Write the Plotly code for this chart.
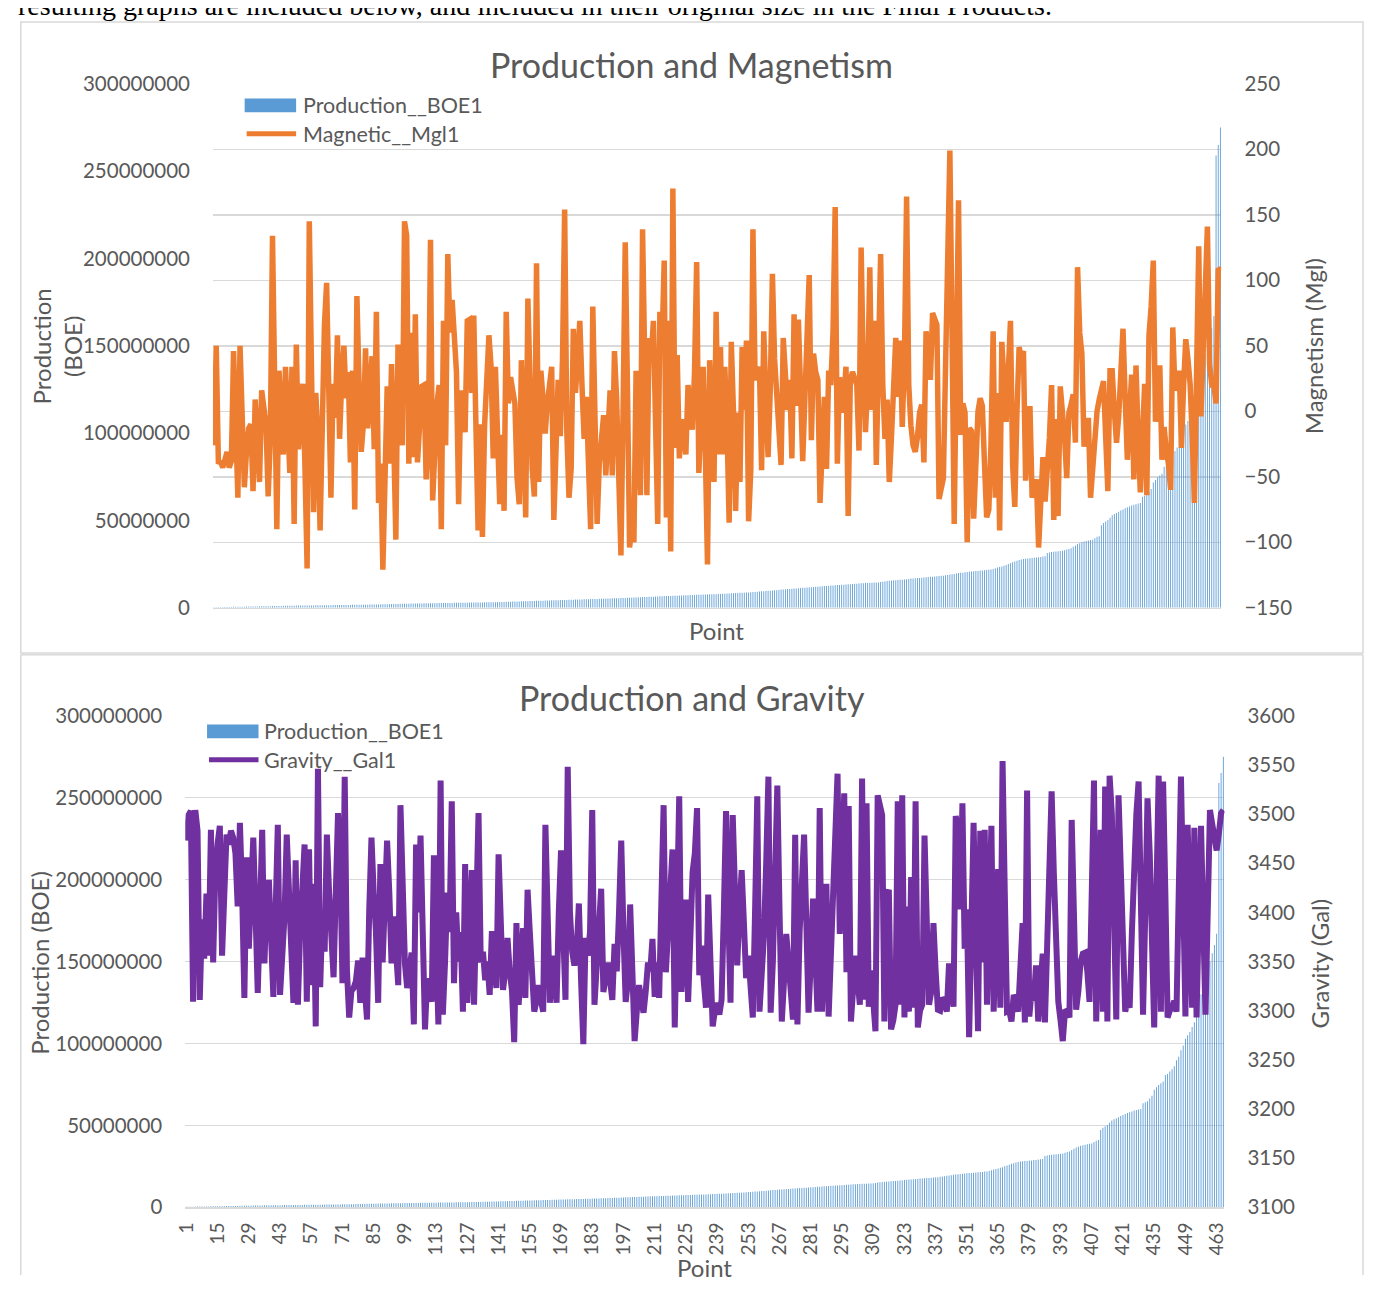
import plotly.graph_objects as go

# The page body keeps the browser's 8px margin, so the figure is sized to fill the
# rest of the 1373x1294 window exactly; all positions below are in window pixels.
OFF = 8
W, H = 1373 - 2 * OFF, 1294 - 2 * OFF
FONT = "Lato"
TXT = "#595959"
GRID = "#D9D9D9"

# ---------------- data ----------------
POINTS = list(range(1, 467))
TICK_POINTS = list(range(1, 467, 14))

# Production in millions of BOE (sorted ascending)
PRODUCTION_M = [
    0.3, 0.32, 0.35, 0.37, 0.4, 0.42, 0.45, 0.47, 0.5, 0.52,
    0.55, 0.57, 0.6, 0.62, 0.65, 0.67, 0.7, 0.72, 0.74, 0.77,
    0.79, 0.82, 0.84, 0.86, 0.89, 0.91, 0.94, 0.96, 0.99, 1.01,
    1.04, 1.06, 1.09, 1.12, 1.15, 1.18, 1.2, 1.22, 1.23, 1.25,
    1.27, 1.28, 1.3, 1.32, 1.33, 1.35, 1.37, 1.38, 1.4, 1.42,
    1.43, 1.45, 1.47, 1.48, 1.5, 1.52, 1.53, 1.55, 1.57, 1.58,
    1.6, 1.62, 1.63, 1.65, 1.67, 1.68, 1.7, 1.72, 1.74, 1.76,
    1.78, 1.8, 1.83, 1.85, 1.88, 1.91, 1.94, 1.97, 2.0, 2.03,
    2.06, 2.09, 2.12, 2.15, 2.18, 2.21, 2.24, 2.27, 2.3, 2.33,
    2.36, 2.39, 2.42, 2.45, 2.47, 2.49, 2.51, 2.53, 2.56, 2.58,
    2.6, 2.62, 2.64, 2.66, 2.68, 2.7, 2.72, 2.74, 2.76, 2.78,
    2.8, 2.82, 2.84, 2.86, 2.88, 2.9, 2.92, 2.94, 2.96, 2.98,
    3.0, 3.02, 3.04, 3.06, 3.08, 3.1, 3.12, 3.14, 3.16, 3.18,
    3.2, 3.24, 3.28, 3.32, 3.36, 3.4, 3.44, 3.48, 3.52, 3.56,
    3.6, 3.64, 3.68, 3.72, 3.76, 3.8, 3.84, 3.88, 3.92, 3.96,
    4.0, 4.04, 4.08, 4.12, 4.16, 4.2, 4.24, 4.28, 4.32, 4.36,
    4.4, 4.44, 4.48, 4.52, 4.56, 4.6, 4.64, 4.68, 4.72, 4.76,
    4.8, 4.84, 4.88, 4.92, 4.96, 5.0, 5.04, 5.08, 5.12, 5.16,
    5.2, 5.25, 5.3, 5.35, 5.4, 5.44, 5.48, 5.52, 5.56, 5.6,
    5.65, 5.7, 5.76, 5.82, 5.88, 5.94, 6.0, 6.06, 6.11, 6.16,
    6.21, 6.26, 6.32, 6.38, 6.44, 6.5, 6.56, 6.62, 6.68, 6.72,
    6.76, 6.8, 6.85, 6.9, 6.95, 7.0, 7.05, 7.1, 7.15, 7.2,
    7.25, 7.3, 7.35, 7.4, 7.45, 7.5, 7.55, 7.6, 7.65, 7.7,
    7.74, 7.77, 7.8, 7.87, 7.94, 8.0, 8.07, 8.13, 8.2, 8.27,
    8.33, 8.4, 8.47, 8.53, 8.6, 8.67, 8.73, 8.8, 8.9, 9.0,
    9.1, 9.2, 9.3, 9.4, 9.5, 9.6, 9.7, 9.8, 9.9, 10.0,
    10.1, 10.2, 10.4, 10.5, 10.6, 10.7, 10.8, 10.9, 11.0, 11.1,
    11.2, 11.3, 11.4, 11.5, 11.6, 11.7, 11.8, 11.9, 12.0, 12.1,
    12.2, 12.3, 12.4, 12.5, 12.6, 12.7, 12.8, 12.9, 13.0, 13.1,
    13.2, 13.25, 13.3, 13.4, 13.5, 13.6, 13.7, 13.8, 13.9, 14.0,
    14.1, 14.2, 14.25, 14.3, 14.35, 14.4, 14.45, 14.5, 14.7, 14.9,
    15.1, 15.3, 15.5, 15.6, 15.7, 15.8, 15.9, 16.0, 16.1, 16.2,
    16.4, 16.5, 16.7, 16.8, 16.9, 17.0, 17.1, 17.2, 17.4, 17.5,
    17.6, 17.7, 17.8, 17.9, 18.0, 18.2, 18.3, 18.4, 18.6, 18.8,
    19.0, 19.2, 19.4, 19.6, 19.9, 20.0, 20.1, 20.3, 20.5, 20.6,
    20.8, 20.9, 21.0, 21.1, 21.3, 21.4, 21.5, 21.6, 21.8, 21.9,
    22.2, 22.6, 23.0, 23.3, 23.7, 24.1, 24.5, 25.0, 25.5, 26.0,
    26.5, 26.9, 27.3, 27.6, 27.9, 28.1, 28.2, 28.3, 28.5, 28.6,
    28.8, 28.9, 29.1, 29.3, 29.5, 31.3, 31.6, 31.9, 32.1, 32.2,
    32.4, 32.5, 32.7, 32.9, 33.3, 33.7, 34.1, 34.9, 35.7, 36.5,
    37.0, 37.6, 37.9, 38.2, 38.5, 38.8, 39.0, 39.8, 40.6, 41.0,
    47.2, 48.6, 49.4, 50.2, 51.6, 53.0, 53.7, 54.3, 55.0, 55.7,
    56.3, 57.0, 57.5, 58.0, 58.5, 59.0, 59.3, 59.7, 60.0, 63.5,
    64.1, 64.7, 66.4, 68.0, 71.7, 73.2, 74.7, 75.7, 76.7, 80.7,
    81.3, 82.8, 84.3, 86.1, 89.8, 91.8, 95.8, 98.8, 102.8, 105,
    107, 110, 113, 118, 124, 130, 136, 141, 145, 150,
    155, 160, 167, 259, 265, 275,
]

MAGNETIC = [
    -26, 50, -40, -38, -43, -36, -31, -43, -38, 46,
    -5, -66, 50, -20, -58, -30, -13, -10, -61, 9,
    -15, -54, 16, 0, -10, -65, -20, 134, 20, -90,
    31, 5, -33, 34, -10, -47, 34, -86, 51, -29,
    -5, 21, -43, -120, 145, 10, -77, 14, -20, -91,
    20, 66, 98, 10, -66, 21, -5, 58, -21, 25,
    50, 10, 30, -39, 31, -75, 88, 20, -31, -10,
    48, -13, 15, 42, -29, 76, -70, -40, -121, -30,
    19, -40, 36, -20, -98, 51, 30, -26, 145, 134,
    -40, 60, -35, 74, -39, -10, 19, 20, -52, -25,
    131, -68, -30, 6, 20, -90, 69, -26, 120, 60,
    85, 64, 30, -71, 16, 5, -16,
    69, 70, 14,
    73, -11, -91, -10, -96, -11, 20, 58, 34, -36,
    34, -37, -71, -18, -76, 76, 6, 26, 15, 6,
    -51, -71, 39, -20, -81, 86, 20, -44, -65, 113,
    -54, 31, 10, -17, 6, 20, 34, -83, -30, 24,
    -19, 40, 154, -16, -66, -44, 63, 14, 40, 69,
    20, -21, 11, -40, -90, 80, 0, -86, -40, -20,
    -3, -49, -18, 16, -49, 46, 10, -40, -110, 0,
    129, 20, -104, -90, -100, 31, -20, -64, 139, 30,
    -64, 56, 40, 69, 0, -86, 76, 50, 115, -81,
    69, -107, 170, -28, 43, -36, -6, -20, -33, 20,
    5, -14, 30, 114, -47, -10, 34, -30, -117, 39,
    -10, -54, 76, -33,
    49, -33, 34, -10, -85, 53,
    0, -76, -1, -54, 49, 1, 54, -84, -45, 139,
    24, 30, 34, -45, 61, 10, -35, 16, 105, 40,
    16, -10, -41, 56, 30, 1, 24, -36, 74, 4,
    70, 21, -38, 10, 50, 104, -22, 44, 30, 24,
    -70, -20, 11, -44, 31, 20, 60, 156, -40, 26,
    -1, 10, 34, -80, 24, 30, 24, 20, -30, 125,
    30, -16, 20, 110, 1, 69, -41, 30, 120, 20,
    -21, 9, -54, -20, 20, 56, 11, 54, -12, 40,
    164, 20, -11, -26, -31, -20, -1, 5, -39, 61,
    45, 24, 75, 70, 66, -67, -60, -51, 34, 100,
    199, 60, -86, 40, 161, -18, 6, -1, -100, -13,
    -15, -82, -40, 0, 10, 4, -40, -81, -75, -25,
    61, -66, 14, -91, 53, 20, -8, 30, 69, -41,
    -73, 0, 49, 40, 46, -53, -30, 4, -66, -60,
    -52, -104, -60, -35, -69, -50, -20, 20, -83, -6,
    -80, 19, 0, -20, -51, -1, 5, 13, -24, 110,
    60, 44, -27, -15, -5, -66, -40, -19, 0, 9,
    15, 23, -20, -61, 31, 31, 0, -24, -4, 30,
    63, 10, -37, -2, 28, -52, 35, -20, -62, -20,
    21, -64, 58, 80, 115, -8, 10, 35, -37, -12,
    -30, -40, -60, 64, 16, 20, 31, -28, 20, 55,
    40, 21, -20, -70, 30, 126, -4, 40, 80, 141,
    36, 20, 20, 6, 109, 108,
]

GRAVITY = [
    3473, 3499, 3503, 3309, 3504, 3483, 3311, 3393, 3353, 3419,
    3356, 3484, 3349, 3443, 3470, 3488, 3356, 3420, 3479, 3469,
    3483, 3476, 3460, 3406, 3491, 3420, 3313, 3456, 3363, 3420,
    3476, 3400, 3318, 3400, 3484, 3348, 3416, 3433, 3380, 3314,
    3400, 3489, 3316, 3360, 3396, 3479, 3420, 3380, 3308, 3453,
    3306, 3380, 3420, 3469, 3309, 3464, 3326, 3429, 3284, 3546,
    3324, 3400, 3360, 3479, 3420, 3380, 3334, 3420, 3501, 3450,
    3328, 3538, 3341, 3293, 3320, 3323, 3330, 3351, 3308, 3354,
    3330, 3291, 3403, 3476, 3420, 3380, 3308, 3449, 3349, 3396,
    3473, 3420, 3348, 3396, 3360, 3326, 3509, 3420, 3348, 3323,
    3340, 3359, 3286, 3469, 3400, 3478, 3380, 3281, 3333, 3320,
    3309, 3458, 3380, 3286, 3534, 3296, 3350, 3420, 3380, 3513,
    3328, 3400, 3350, 3380, 3299, 3449, 3308, 3360, 3443, 3306,
    3400, 3501, 3349, 3360, 3331, 3350, 3316, 3381, 3350, 3323,
    3459, 3400, 3321, 3340, 3374, 3340, 3320, 3268, 3389, 3306,
    3340, 3384, 3313, 3423, 3380, 3330, 3299, 3310, 3326, 3310,
    3299, 3489, 3400, 3308, 3356, 3330, 3308, 3400, 3463, 3380,
    3311, 3548, 3400, 3360, 3346, 3360, 3409, 3330, 3266, 3374,
    3356, 3380, 3504, 3306, 3340, 3380, 3424, 3319, 3340, 3349,
    3330, 3311, 3368, 3340, 3400, 3473, 3380, 3309, 3330, 3408,
    3340, 3269, 3300, 3326, 3310, 3298, 3320, 3349, 3340, 3373,
    3314, 3349, 3313, 3400, 3509, 3339, 3380, 3441, 3464, 3283,
    3400, 3518, 3319, 3360, 3413, 3309, 3380, 3441, 3460, 3506,
    3336, 3366, 3330, 3303, 3418, 3350, 3284, 3300, 3308, 3296,
    3311, 3400, 3503, 3400, 3308, 3499, 3420, 3346, 3400, 3443,
    3390, 3333, 3356, 3330, 3293, 3400, 3518, 3299, 3330, 3376,
    3450, 3538, 3298, 3350, 3440, 3529, 3400, 3289, 3330, 3378,
    3350, 3320, 3291, 3479, 3286, 3380, 3430, 3479, 3390, 3298,
    3350, 3414, 3360, 3299, 3506, 3299, 3360, 3429, 3294, 3360,
    3433, 3480, 3541, 3378, 3450, 3521, 3339, 3508, 3289, 3320,
    3356, 3330, 3306, 3536, 3311, 3511, 3304, 3341, 3310, 3279,
    3519, 3510, 3499, 3289, 3416, 3423, 3281, 3290, 3306, 3513,
    3306, 3519, 3293, 3406, 3299, 3436, 3303, 3513, 3283, 3300,
    3306, 3478, 3390, 3306, 3319, 3389, 3340, 3301, 3300, 3313,
    3310, 3299, 3348, 3320, 3304, 3498, 3480, 3403, 3511, 3363,
    3403, 3273, 3380, 3491, 3380, 3279, 3483, 3349, 3484, 3306,
    3400, 3488, 3299, 3370, 3444, 3303, 3554, 3420, 3299, 3300,
    3289, 3316, 3310, 3299, 3340, 3389, 3288, 3524, 3294, 3320,
    3310, 3346, 3289, 3320, 3358, 3288, 3380, 3450, 3523, 3440,
    3360, 3309, 3290, 3269, 3299, 3300, 3293, 3494, 3400, 3301,
    3320, 3350, 3358, 3359, 3340, 3309, 3420, 3534, 3289, 3380,
    3484, 3299, 3528, 3289, 3539, 3500, 3400, 3291, 3519, 3450,
    3380, 3299, 3310, 3303, 3380, 3450, 3500, 3533, 3420, 3296,
    3400, 3516, 3460, 3380, 3283, 3420, 3539, 3299, 3533, 3420,
    3293, 3300, 3303, 3310, 3299, 3420, 3538, 3420, 3294, 3489,
    3400, 3303, 3486, 3293, 3400, 3488, 3390, 3296, 3400, 3504,
    3490, 3470, 3463, 3480, 3501, 3504,
]

PROD_TICKS = [0, 50000000, 100000000, 150000000, 200000000, 250000000, 300000000]
MAG_TICKS = [-150, -100, -50, 0, 50, 100, 150, 200, 250]
GRAV_TICKS = [3100, 3150, 3200, 3250, 3300, 3350, 3400, 3450, 3500, 3550, 3600]

production = [v * 1e6 for v in PRODUCTION_M]

# ---------------- helpers (window pixels -> paper) ----------------
def px(x):
    return (x - OFF) / W


def py(y):
    return 1 - (y - OFF) / H


BLUE = "#5B9BD5"
ORANGE = "#ED7D31"
PURPLE = "#7030A0"

fig = go.Figure()
fig.add_trace(go.Bar(x=POINTS, y=production, name="Production__BOE1",
                     marker=dict(color=BLUE, line=dict(width=0)),
                     xaxis="x", yaxis="y", showlegend=False))
fig.add_trace(go.Scatter(x=POINTS, y=MAGNETIC, name="Magnetic__Mgl1", mode="lines",
                         line=dict(color=ORANGE, width=5.5),
                         xaxis="x", yaxis="y2", showlegend=False))
fig.add_trace(go.Bar(x=POINTS, y=production, name="Production__BOE1",
                     marker=dict(color=BLUE, line=dict(width=0)),
                     xaxis="x2", yaxis="y3", showlegend=False))
fig.add_trace(go.Scatter(x=POINTS, y=GRAVITY, name="Gravity__Gal1", mode="lines",
                         line=dict(color=PURPLE, width=6),
                         xaxis="x2", yaxis="y4", showlegend=False))

tickfont = dict(family=FONT, size=20.5, color=TXT)

fig.update_layout(
    width=W, height=H,
    margin=dict(l=0, r=0, t=0, b=0),
    paper_bgcolor="white", plot_bgcolor="rgba(0,0,0,0)",
    bargap=0.6,
    hovermode=False,
    font=dict(family=FONT, color=TXT),
    xaxis=dict(domain=[px(203), px(1222)], range=[0.5, 466.5], anchor="y",
               showticklabels=False, ticks="", showgrid=False, zeroline=False,
               showline=True, linecolor=GRID, linewidth=1.5),
    yaxis=dict(domain=[py(606), py(72)], range=[0, 300000000], anchor="x",
               tickvals=PROD_TICKS, tickformat="d", showgrid=False, zeroline=False,
               tickfont=tickfont, ticklabelstandoff=22),
    yaxis2=dict(overlaying="y", side="right", anchor="x", range=[-150, 250],
                tickvals=MAG_TICKS, showgrid=True, gridcolor=GRID, gridwidth=1.5,
                zeroline=False, tickfont=tickfont, ticklabelstandoff=22),
    xaxis2=dict(domain=[px(175), px(1225)], range=[0.5, 466.5], anchor="y3",
                tickvals=TICK_POINTS, tickangle=-90, ticks="",
                tickfont=dict(family=FONT, size=19, color=TXT),
                showgrid=False, zeroline=False,
                showline=True, linecolor=GRID, linewidth=1.5, ticklabelstandoff=6),
    yaxis3=dict(domain=[py(1217), py(716)], range=[0, 300000000], anchor="x2",
                tickvals=PROD_TICKS, tickformat="d", showgrid=True, gridcolor=GRID,
                gridwidth=1.5, zeroline=False, tickfont=tickfont, ticklabelstandoff=22),
    yaxis4=dict(overlaying="y3", side="right", anchor="x2", range=[3100, 3600],
                tickvals=GRAV_TICKS, showgrid=False, zeroline=False,
                tickfont=tickfont, ticklabelstandoff=22),
)

frame = dict(color=GRID, width=1.5)
BOTTOM = OFF + H  # last window row covered by the figure
shapes = [
    # top chart frame
    dict(type="rect", xref="paper", yref="paper", x0=px(8.8), x1=px(1365), y0=py(652), y1=py(9),
         line=frame, fillcolor="rgba(0,0,0,0)", layer="below"),
    # bottom chart frame (open at the bottom, like the cropped reference)
    dict(type="line", xref="paper", yref="paper", x0=px(8.8), x1=px(1365), y0=py(654), y1=py(654),
         line=frame, layer="below"),
    dict(type="line", xref="paper", yref="paper", x0=px(8.8), x1=px(8.8), y0=py(654), y1=py(BOTTOM),
         line=frame, layer="below"),
    dict(type="line", xref="paper", yref="paper", x0=px(1365), x1=px(1365), y0=py(654), y1=py(BOTTOM),
         line=frame, layer="below"),
    # legend keys (top)
    dict(type="rect", xref="paper", yref="paper", x0=px(235), x1=px(287), y0=py(101), y1=py(87),
         line=dict(width=0), fillcolor=BLUE),
    dict(type="line", xref="paper", yref="paper", x0=px(237), x1=px(287), y0=py(123), y1=py(123),
         line=dict(color=ORANGE, width=5)),
    # legend keys (bottom)
    dict(type="rect", xref="paper", yref="paper", x0=px(197), x1=px(249), y0=py(739), y1=py(725),
         line=dict(width=0), fillcolor=BLUE),
    dict(type="line", xref="paper", yref="paper", x0=px(199), x1=px(249), y0=py(761), y1=py(761),
         line=dict(color=PURPLE, width=5)),
]

def ann(text, x, y, size, xanchor="center", yanchor="middle", angle=0, family=FONT, color=TXT):
    return dict(text=text, x=px(x), y=py(y), xref="paper", yref="paper", showarrow=False,
                xanchor=xanchor, yanchor=yanchor, textangle=angle,
                font=dict(family=family, size=size, color=color))

annotations = [
    ann("resulting graphs are included below, and included in their original size in the Final Products.",
        4, -8, 28, xanchor="left", family="Liberation Serif", color="#000000"),
    ann("Production and Magnetism", 687, 52, 34),
    ann("Production and Gravity", 687, 697, 34),
    ann("Production<br>(BOE)", 45, 340, 24, angle=-90),
    ann("Magnetism (Mgl)", 1315, 340, 24, angle=-90),
    ann("Point", 712, 629, 24),
    ann("Production (BOE)", 28, 968, 24, angle=-90),
    ann("Gravity (Gal)", 1322, 968, 24, angle=-90),
    ann("Point", 700, 1278, 24),
    ann("Production__BOE1", 292, 94, 21.5, xanchor="left"),
    ann("Magnetic__Mgl1", 292, 123, 21.5, xanchor="left"),
    ann("Production__BOE1", 253, 732, 21.5, xanchor="left"),
    ann("Gravity__Gal1", 253, 761, 21.5, xanchor="left"),
]

fig.update_layout(shapes=shapes, annotations=annotations)

fig.write_html("out.html", include_plotlyjs=True,
               config={"displayModeBar": False, "staticPlot": True})
